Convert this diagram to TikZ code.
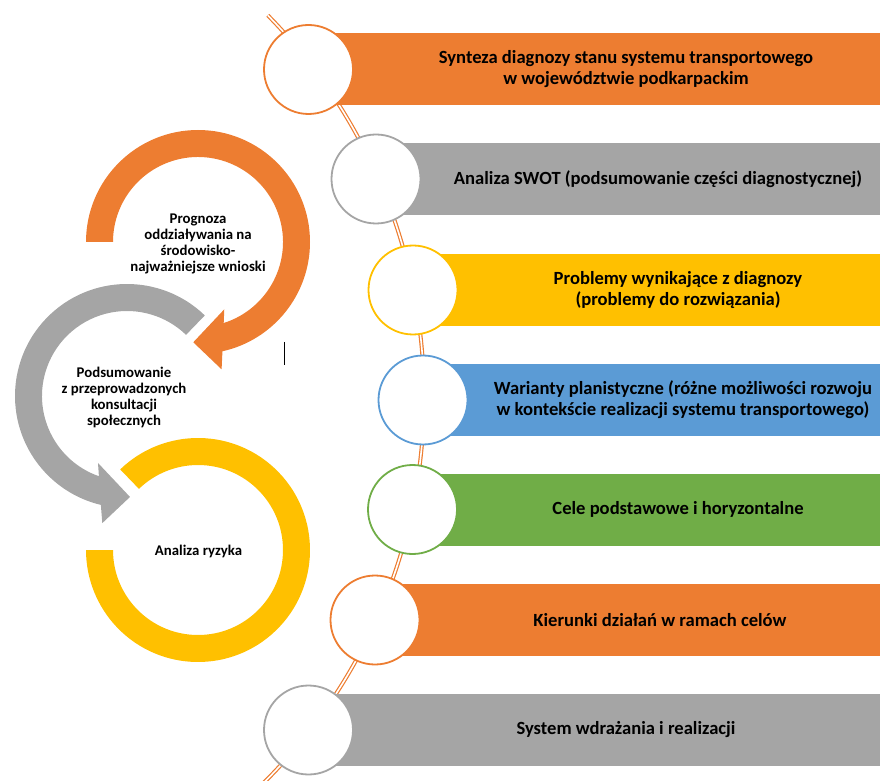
\documentclass[tikz,border=0pt]{standalone}
\usepackage{fontspec}
\setmainfont{Carlito}
\definecolor{orng}{HTML}{ED7D31}
\definecolor{gry}{HTML}{A5A5A5}
\definecolor{yel}{HTML}{FFC000}
\definecolor{blu}{HTML}{5B9BD5}
\definecolor{grn}{HTML}{70AD47}
\tikzset{
  bar/.style={fill=#1, draw=none},
  ring/.style={circle, draw=#1, fill=white, line width=1.8pt, minimum size=89pt, inner sep=0pt},
  bartext/.style={font=\fontsize{18.6}{21}\selectfont\bfseries, align=center, text=black, inner sep=0pt},
  lefttext/.style={font=\fontsize{14.8}{16}\selectfont\bfseries, align=center, text=black, inner sep=0pt},
  conn/.style={draw=orng, line width=1.2pt, double=white, double distance=1.6pt}
}
\begin{document}
\begin{tikzpicture}[x=1pt,y=1pt]
\useasboundingbox (0,0) rectangle (880,780);
% connector arc
\coordinate (ctop) at ([shift={(-120.5,383)}]44.5:544.5);
\draw[conn] (ctop) arc[start angle=44.5, end angle=-46, radius=544.5];
% bars
\fill[bar=orng] (308.5,674.5) rectangle (880,746.5);
\fill[bar=gry]  (376,565) rectangle (880,637);
\fill[bar=yel]  (413,454) rectangle (880,526);
\fill[bar=blu]  (423,344) rectangle (880,416);
\fill[bar=grn]  (412.5,234.5) rectangle (880,306.5);
\fill[bar=orng] (375,124) rectangle (880,196);
\fill[bar=gry]  (308.5,14) rectangle (880,86);
% circles
\node[ring=orng] (c1) at (308.5,710.5) {};
\node[ring=gry]  (c2) at (376,601) {};
\node[ring=yel]  (c3) at (413,490) {};
\node[ring=blu]  (c4) at (423,380) {};
\node[ring=grn]  (c5) at (412.5,270.5) {};
\node[ring=orng] (c6) at (375,160) {};
\node[ring=gry]  (c7) at (308.5,50) {};
% bar texts
\node[bartext] (t1) at (626,710.5) {Synteza diagnozy stanu systemu transportowego\\w województwie podkarpackim};
\node[bartext] (t2) at (658,601) {Analiza SWOT (podsumowanie części diagnostycznej)};
\node[bartext] (t3) at (678,490) {Problemy wynikające z diagnozy\\(problemy do rozwiązania)};
\node[bartext] (t4) at (683,380) {Warianty planistyczne (różne możliwości rozwoju\\w kontekście realizacji systemu transportowego)};
\node[bartext] (t5) at (678,270.5) {Cele podstawowe i horyzontalne};
\node[bartext] (t6) at (660,160) {Kierunki działań w ramach celów};
\node[bartext] (t7) at (626,50) {System wdrażania i realizacji};
% yellow ring
\begin{scope}[shift={(198,230)}]
\fill[yel] (134:112) arc[start angle=134, end angle=-180, radius=112]
  -- (180:85) arc[start angle=-180, end angle=134, radius=85] -- cycle;
\end{scope}
% gray ring arrow
\begin{scope}[shift={(127,384)}]
\fill[gry] (46:112) arc[start angle=46, end angle=256.5, radius=112]
  -- (259:129.5) -- (271.7:101) -- (246.6:73) -- (250.7:85)
  arc[start angle=250.7, end angle=46, radius=85] -- cycle;
\end{scope}
% orange ring arrow
\begin{scope}[shift={(198,538)}]
\fill[orng] (180:112) arc[start angle=180, end angle=-77.4, radius=112]
  -- (-79.5:129.5) -- (-92.7:100.4) -- (-68.7:72.3) -- (-72.4:85)
  arc[start angle=-72.4, end angle=180, radius=85] -- cycle;
\end{scope}
% left texts
\node[lefttext] (l1) at (198,536) {Prognoza\\oddziaływania na\\środowisko-\\najważniejsze wnioski};
\node[lefttext] (l2) at (124,383) {Podsumowanie\\z przeprowadzonych\\konsultacji\\społecznych};
\node[lefttext] (l3) at (198.5,229) {Analiza ryzyka};
% cursor mark
\coordinate (m1) at (284.7,438);
\coordinate (m2) at (284.7,415);
\draw[line width=0.8pt] (m1) -- (m2);
\end{tikzpicture}
\end{document}
